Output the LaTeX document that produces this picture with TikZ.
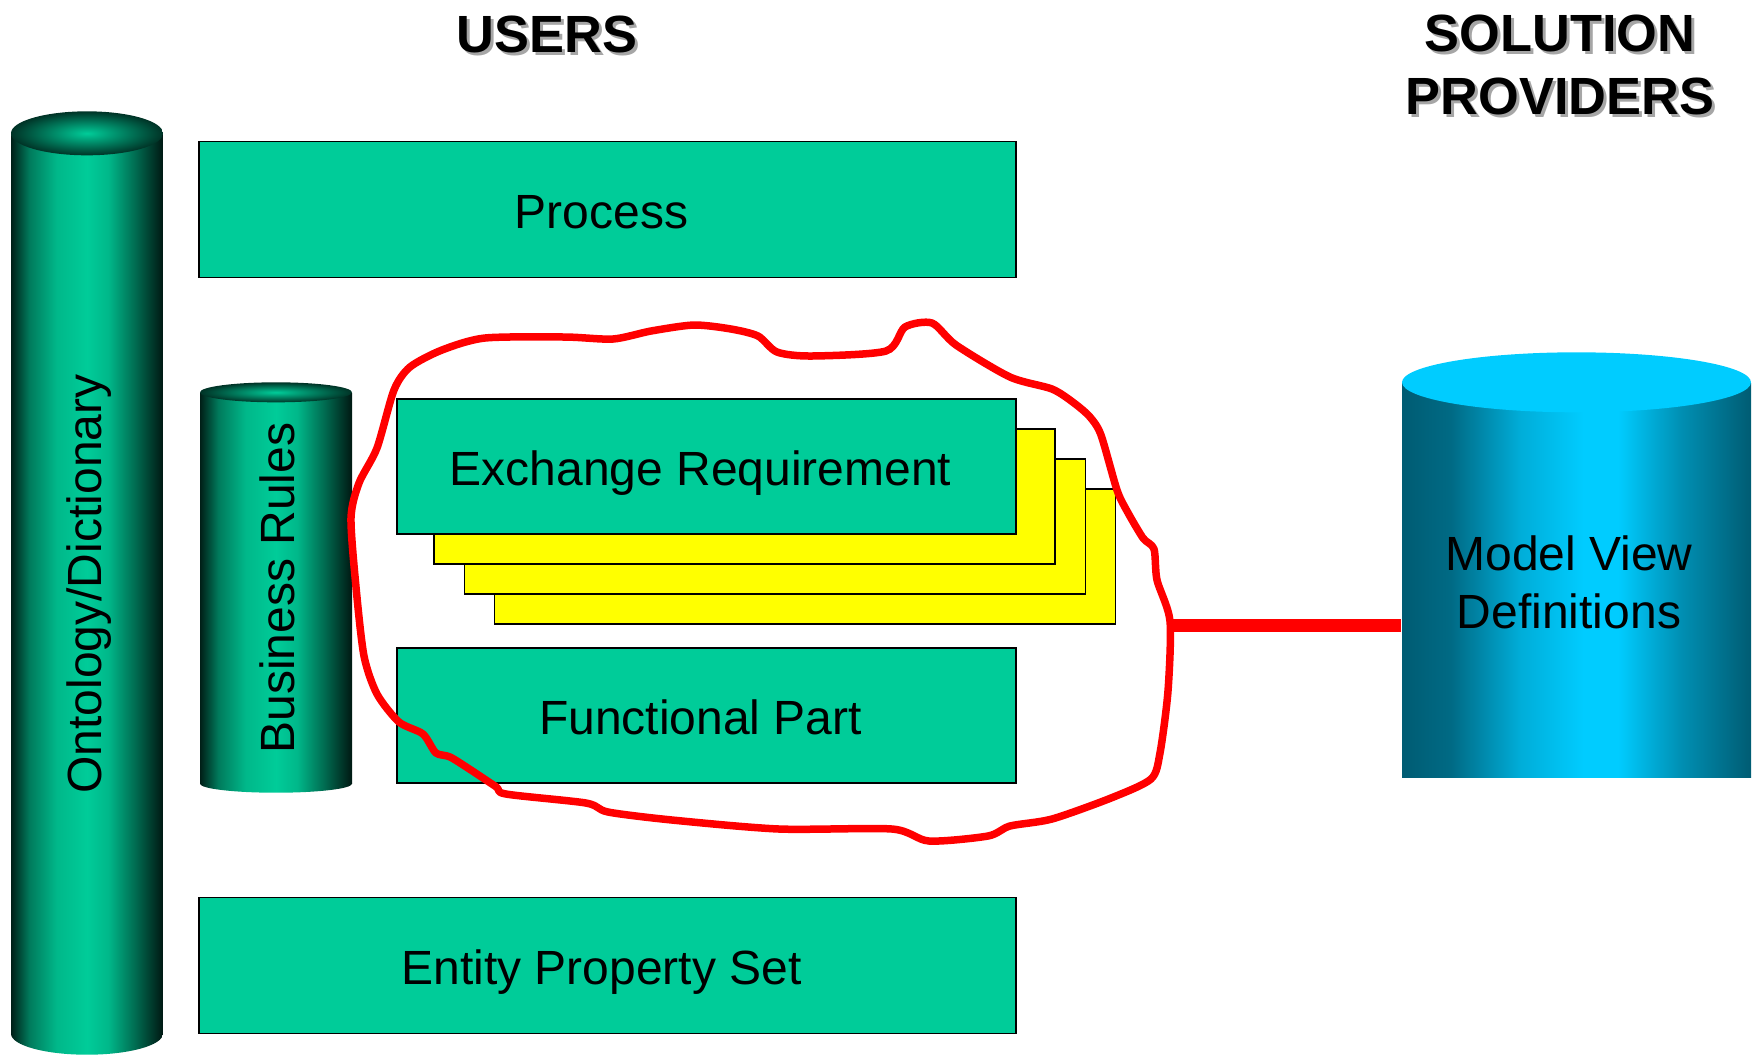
\documentclass[tikz,border=0pt]{standalone}
\usepackage{fontspec}
\setmainfont{Liberation Sans}

\definecolor{boxgreen}{HTML}{00CC99}
\definecolor{sheetyellow}{HTML}{FFFF00}
\definecolor{capblue}{HTML}{00CCFF}
\definecolor{linkred}{HTML}{FF0000}

\pgfdeclarehorizontalshading{greencyl}{100bp}{color(0bp)=(black!85!boxgreen); color(25bp)=(black!85!boxgreen);
  color(31bp)=(black!40!boxgreen); color(40bp)=(black!10!boxgreen); color(50bp)=(boxgreen);
  color(57bp)=(black!10!boxgreen); color(66bp)=(black!48!boxgreen); color(75bp)=(black!88!boxgreen);
  color(100bp)=(black!88!boxgreen)}
\pgfdeclarehorizontalshading{bluecyl}{100bp}{color(0bp)=(black!55!capblue); color(25bp)=(black!55!capblue);
  color(32bp)=(black!48!capblue); color(42bp)=(black!15!capblue); color(51bp)=(capblue);
  color(56bp)=(capblue); color(65bp)=(black!30!capblue); color(75bp)=(black!55!capblue);
  color(100bp)=(black!55!capblue)}

\begin{document}
\begin{tikzpicture}[x=0.1mm, y=-0.1mm,
  every node/.style = {align=center, inner sep=0pt, font=\fontsize{13.66}{16.5}\selectfont},
  bar/.style = {draw, line width=0.15mm, fill=boxgreen, minimum height=13.6mm,
    text height=10.6pt, text depth=0pt,
    execute at begin node=\hspace*{-0.6mm}, execute at end node=\hspace*{0.6mm}},
  sheet/.style = {draw, line width=0.15mm, fill=sheetyellow, minimum width=62.1mm, minimum height=13.5mm},
  column/.style = {shading=greencyl, minimum width=15.2mm},
  heading/.style = {font=\fontsize{14.9}{17.9}\selectfont\bfseries},
  shade/.style = {heading, text=black!35},
  blob/.style = {draw=linkred, line width=0.75mm, line join=round},
  link/.style = {draw=linkred, line width=1.3mm}]
  \useasboundingbox (0,0) rectangle (1758,1057);

  % headings
  \node[shade] (usersShade) at (550,37) {USERS};
  \node[heading] (users) at (547,34) {USERS};
  \node[shade] (providersShade) at (1563,68) {SOLUTION\\PROVIDERS};
  \node[heading] (providers) at (1560,65) {SOLUTION\\PROVIDERS};

  % ontology column
  \node[column, minimum height=89.9mm] (onto) at (87,583.5) {};
  \path[shading=greencyl] (onto.south) ellipse [x radius=7.6mm, y radius=2.1mm];
  \path[inner color=boxgreen, outer color=black!75!boxgreen] (onto.north) ellipse [x radius=7.6mm, y radius=2.2mm];
  \node[rotate=90] (ontoText) at (89,584) {Ontology/Dictionary};

  % business rules column
  \node[column, minimum height=39mm] (rules) at (276,588) {};
  \path[shading=greencyl] (rules.south) ellipse [x radius=7.6mm, y radius=0.9mm];
  \path[inner color=boxgreen, outer color=black!75!boxgreen] (rules.north) ellipse [x radius=7.6mm, y radius=1mm];
  \node[rotate=90] (rulesText) at (277,588) {Business Rules};

  % user side
  \node[bar, minimum width=81.7mm] (process) at (607.5,209.5) {Process};
  \node[sheet] (sheetC) at (805,556.5) {};
  \node[sheet] (sheetB) at (775,526.5) {};
  \node[sheet] (sheetA) at (744.5,496.5) {};
  \node[bar, minimum width=61.9mm, minimum height=13.5mm] (exchange) at (706.5,466.5) {Exchange Requirement};
  \node[bar, minimum width=61.9mm, minimum height=13.5mm] (functional) at (706.5,715.5) {Functional Part};
  \node[bar, minimum width=81.7mm] (entity) at (607.5,965.5) {Entity Property Set};

  % solution provider side
  \node[shading=bluecyl, minimum width=34.9mm, minimum height=39.4mm] (mvd) at (1576.5,580) {};
  \fill[capblue] (mvd.north) ellipse [x radius=17.45mm, y radius=3mm];
  \node (mvdText) at (1569,582) {Model View\\Definitions};

  % hand drawn loop
  \path[blob] plot[smooth cycle, tension=0.45] coordinates {
    (442,350) (485,338) (565,337) (613,339) (651,331) (694,325) (731,329) (758,336)
    (777,352) (811,356) (886,351) (905,327) (932,323) (956,345) (1010,377) (1052,389)
    (1074,403) (1090,417) (1101,435) (1117,490) (1127,511) (1143,538) (1154,549)
    (1157,580) (1170,621) (1168,691) (1160,753) (1151,779) (1111,798) (1052,819)
    (1010,826) (988,836) (929,841) (892,829) (779,829) (672,820) (608,812) (586,803)
    (506,794) (495,786) (452,758) (436,753) (423,734) (399,722) (377,694) (364,656)
    (356,587) (351,518) (359,483) (377,448) (394,390) (410,367)};
  \coordinate (loopEnd) at (1172,625);
  \path[link] (loopEnd) -- (loopEnd -| mvd.west);
\end{tikzpicture}
\end{document}
